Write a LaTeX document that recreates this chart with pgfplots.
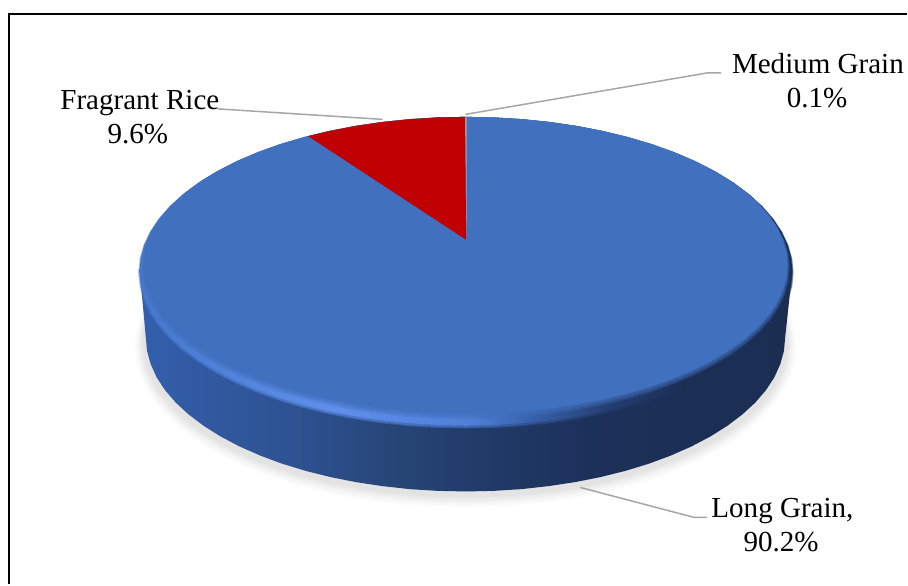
\documentclass[border=0pt]{standalone}
\usepackage{fontspec}
\setmainfont{Liberation Serif}
\usepackage{pgfplots}
\usepackage{pgfplotstable}
\pgfplotsset{compat=1.18}

\definecolor{facec}{HTML}{4170BE}
\definecolor{redc}{HTML}{C00000}
\definecolor{leader}{HTML}{A6A6A6}

\tikzset{lbl/.style={anchor=base,inner sep=0pt,text=black,font=\fontsize{29.07}{34}\selectfont}}

% stops: bbox of the pie maps on 25bp..75bp
\pgfdeclarehorizontalshading{pieside}{100bp}{
  rgb(0bp)=(0.20,0.37,0.67);
  rgb(25.5bp)=(0.20,0.37,0.67);
  rgb(37bp)=(0.18,0.32,0.57);
  rgb(45bp)=(0.15,0.27,0.46);
  rgb(51bp)=(0.13,0.23,0.41);
  rgb(60bp)=(0.11,0.19,0.35);
  rgb(75bp)=(0.105,0.18,0.32);
  rgb(100bp)=(0.105,0.18,0.32)}
\pgfdeclarehorizontalshading{pierim}{100bp}{
  rgb(0bp)=(0.27,0.47,0.80);
  rgb(25bp)=(0.27,0.47,0.80);
  rgb(39.6bp)=(0.37,0.56,0.92);
  rgb(50.3bp)=(0.31,0.50,0.85);
  rgb(55bp)=(0.22,0.38,0.67);
  rgb(61bp)=(0.14,0.24,0.44);
  rgb(67bp)=(0.105,0.18,0.33);
  rgb(100bp)=(0.105,0.18,0.33)}

% shares: Long Grain 90.2, Fragrant Rice 9.6, Medium Grain 0.1
% outline of the disc, 5 degree steps
\pgfplotstableread[row sep=\\]{
u v\\
1 0\\ .9962 .0872\\ .9848 .1736\\ .9659 .2588\\ .9397 .3420\\ .9063 .4226\\
.8660 .5\\ .8192 .5736\\ .7660 .6428\\ .7071 .7071\\ .6428 .7660\\ .5736 .8192\\
.5 .8660\\ .4226 .9063\\ .3420 .9397\\ .2588 .9659\\ .1736 .9848\\ .0872 .9962\\
0 1\\ -.0872 .9962\\ -.1736 .9848\\ -.2588 .9659\\ -.3420 .9397\\ -.4226 .9063\\
-.5 .8660\\ -.5736 .8192\\ -.6428 .7660\\ -.7071 .7071\\ -.7660 .6428\\ -.8192 .5736\\
-.8660 .5\\ -.9063 .4226\\ -.9397 .3420\\ -.9659 .2588\\ -.9848 .1736\\ -.9962 .0872\\
-1 0\\ -.9962 -.0872\\ -.9848 -.1736\\ -.9659 -.2588\\ -.9397 -.3420\\ -.9063 -.4226\\
-.8660 -.5\\ -.8192 -.5736\\ -.7660 -.6428\\ -.7071 -.7071\\ -.6428 -.7660\\ -.5736 -.8192\\
-.5 -.8660\\ -.4226 -.9063\\ -.3420 -.9397\\ -.2588 -.9659\\ -.1736 -.9848\\ -.0872 -.9962\\
0 -1\\ .0872 -.9962\\ .1736 -.9848\\ .2588 -.9659\\ .3420 -.9397\\ .4226 -.9063\\
.5 -.8660\\ .5736 -.8192\\ .6428 -.7660\\ .7071 -.7071\\ .7660 -.6428\\ .8192 -.5736\\
.8660 -.5\\ .9063 -.4226\\ .9397 -.3420\\ .9659 -.2588\\ .9848 -.1736\\ .9962 -.0872\\
}\disc

% disc at centre (#1,#2), radii #3 and #4
\newcommand{\discplot}[5]{
  \addplot[draw=none,#5] table[x expr={#1+#3*\thisrow{u}},y expr={#2+#4*\thisrow{v}}] {\disc};
}

\begin{document}
\begin{tikzpicture}
\begin{axis}[
    width=908pt, height=585pt,
    scale only axis,
    hide axis,
    xmin=0, xmax=908, ymin=0, ymax=585,
    y dir=reverse,
    clip=false,
    every axis plot/.append style={mark=none},
    ]
  % keeps the whole page
  \addplot[draw=none] coordinates {(0,0) (908,585)};

  % frame, left and top only
  \addplot[black,line width=2pt] coordinates {(8.7,585) (8.7,14.3) (908,14.3)};

  % shadow
  \discplot{466}{347}{331}{161}{fill=black!1.5}
  \discplot{466}{346.5}{329}{159.5}{fill=black!3}
  \discplot{466}{345.5}{327.5}{158}{fill=black!5}
  \discplot{466}{345}{326}{156.5}{fill=black!7}
  \discplot{466}{344}{324.5}{155.5}{fill=black!9}
  \discplot{466}{343}{323}{155}{fill=black!11}

  % side wall
  \addplot[draw=none,shade,shading=pieside] coordinates {
    (140,273) (146,338) (147.2,351.4) (150.9,364.7) (156.9,377.9) (165.3,390.7)
    (176,403.1) (188.9,415) (203.9,426.3) (220.9,437) (239.7,446.9) (260.3,456)
    (282.4,464.2) (306,471.4) (330.8,477.6) (356.6,482.7) (383.2,486.7) (410.4,489.7)
    (438.1,491.4) (466,492) (493.9,491.4) (521.6,489.7) (548.8,486.7) (575.4,482.7)
    (601.2,477.6) (626,471.4) (649.6,464.2) (671.7,456) (692.3,446.9) (711.1,437)
    (728.1,426.3) (743.1,415) (756,403.1) (766.7,390.7) (775.1,377.9) (781.1,364.7)
    (784.8,351.4) (786,338) (793,273)} -- cycle;

  % bevel and top face
  \discplot{466.5}{273}{328}{156}{shade,shading=pierim,opacity=.35}
  \discplot{466.5}{272.5}{327.6}{155.5}{shade,shading=pierim,opacity=.5}
  \discplot{466.5}{271.5}{326.8}{154.5}{shade,shading=pierim}
  \discplot{466.5}{268.5}{324.4}{151.5}{fill=facec,opacity=.2}
  \discplot{466.5}{268}{324}{151}{fill=facec,opacity=.2}
  \discplot{466.5}{267.5}{323.6}{150.5}{fill=facec,opacity=.2}
  \discplot{466.5}{267}{323.2}{150}{fill=facec,opacity=.2}
  \discplot{466.5}{266.5}{322.8}{149.5}{fill=facec,opacity=.2}
  \discplot{466.5}{266}{322.4}{149}{fill=facec,opacity=.2}
  \discplot{466.5}{265.5}{322}{148.5}{fill=facec}

  % Medium Grain sliver and Fragrant Rice slice
  \addplot[draw=none,fill=leader] coordinates {(467,240) (467.2,117) (465.4,117)} -- cycle;
  \addplot[draw=none,fill=redc] coordinates {(466.6,240) (465.6,117) (437.9,117.6) (409.5,119.4)
    (381.6,122.3) (354.3,126.4) (327.9,131.6) (308.4,136.3)} -- cycle;

  % leader lines
  \addplot[leader,line width=1.5pt] coordinates {(218,109) (383,119.5)};
  \addplot[leader,line width=1.5pt] coordinates {(466,114.5) (708,73) (722,73)};
  \addplot[leader,line width=1.5pt] coordinates {(581,488) (695,518) (708,518)};

  \node[lbl] at (axis cs:818.8,74) {Medium Grain};
  \node[lbl] at (axis cs:818,107.7) {0.1\%};
  \node[lbl] at (axis cs:140,110) {Fragrant Rice};
  \node[lbl] at (axis cs:138,144) {9.6\%};
  \node[lbl] at (axis cs:783.3,517.7) {Long Grain,};
  \node[lbl] at (axis cs:782,551.7) {90.2\%};
\end{axis}
\end{tikzpicture}
\end{document}
